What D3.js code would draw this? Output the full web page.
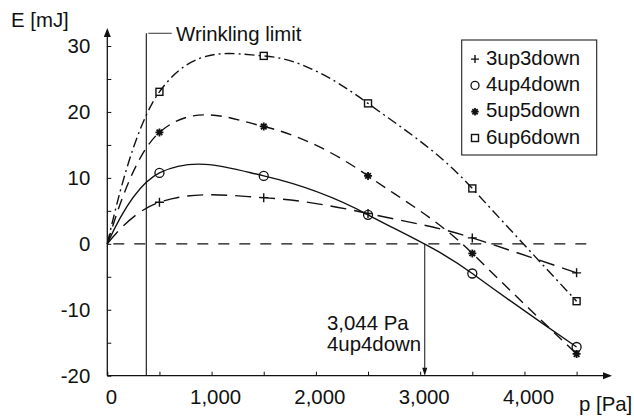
<!DOCTYPE html>
<html>
<head>
<meta charset="utf-8">
<script src="https://cdn.jsdelivr.net/npm/d3@7"></script>
<style>
  html, body { margin: 0; padding: 0; background: #fff; }
  svg { display: block; }
  text { font-family: "Liberation Sans", Arial, Helvetica, sans-serif; fill: #111; }
</style>
</head>
<body>
<svg id="chart" width="634" height="417"></svg>
<script>
// ---------- data ----------
const pressures = [0, 500, 1500, 2500, 3500, 4500];          // p [Pa]
const seriesNames = ["3up3down", "4up4down", "5up5down", "6up6down"];
const e3up3down = [0, 6.3, 7.0, 4.6, 0.9, -4.4];             // E [mJ]
const e4up4down = [0, 10.75, 10.3, 4.4, -4.5, -15.65];
const e5up5down = [0, 16.9, 17.8, 10.3, -1.45, -16.7];
const e6up6down = [0, 23.05, 28.5, 21.3, 8.4, -8.7];
const xTicks = [0, 500, 1000, 1500, 2000, 2500, 3000, 3500, 4000, 4500];
const yTicks = [-20, -15, -10, -5, 0, 5, 10, 15, 20, 25, 30];
const wrinklingLimit = 374;      // Pa
const crossing = 3044;           // Pa, 4up4down zero crossing
const crossingLabel = ["3,044 Pa", "4up4down"];

// ---------- setup ----------
const svg = d3.select("#chart");
const FONT = 20.4;
const INK = "#111";

const x = d3.scaleLinear().domain([0, 4500]).range([107.3, 576.6]);
const y = d3.scaleLinear().domain([-20, 30]).range([375.7, 46]);

const series = [
  { name: seriesNames[0], values: e3up3down, dash: "16,8",       marker: "plus" },
  { name: seriesNames[1], values: e4up4down, dash: null,         marker: "circle" },
  { name: seriesNames[2], values: e5up5down, dash: "11,7",       marker: "star" },
  { name: seriesNames[3], values: e6up6down, dash: "10,4,2,4",   marker: "square" }
];

// smooth spline through points (Hermite in x, finite-difference tangents)
function curveSmoothX(context) {
  let pts = [];
  const S = 1.15;
  return {
    areaStart() {}, areaEnd() {},
    lineStart() { pts = []; },
    point(px, py) { pts.push([+px, +py]); },
    lineEnd() {
      const n = pts.length;
      if (!n) return;
      context.moveTo(pts[0][0], pts[0][1]);
      if (n < 3) { for (let i = 1; i < n; i++) context.lineTo(pts[i][0], pts[i][1]); return; }
      const m = new Array(n);
      for (let i = 1; i < n - 1; i++)
        m[i] = S * (pts[i + 1][1] - pts[i - 1][1]) / (pts[i + 1][0] - pts[i - 1][0]);
      const s0 = (pts[1][1] - pts[0][1]) / (pts[1][0] - pts[0][0]);
      const sn = (pts[n - 1][1] - pts[n - 2][1]) / (pts[n - 1][0] - pts[n - 2][0]);
      m[0] = 2 * s0 - m[1];
      m[n - 1] = 2 * sn - m[n - 2];
      for (let i = 0; i < n - 1; i++) {
        const [x0, y0] = pts[i], [x1, y1] = pts[i + 1];
        const h = (x1 - x0) / 3;
        context.bezierCurveTo(x0 + h, y0 + m[i] * h, x1 - h, y1 - m[i + 1] * h, x1, y1);
      }
    }
  };
}

// ---------- axes ----------
const yAxis = d3.axisLeft(y).tickValues(yTicks).tickSize(-4).tickPadding(17)
  .tickFormat(d => d % 10 === 0 ? d : "");
const gy = svg.append("g").attr("transform", `translate(${x(0)},0)`).call(yAxis);
gy.select(".domain").remove();
gy.selectAll("line").attr("stroke", INK).attr("stroke-width", 1);
gy.selectAll("text").attr("font-size", FONT).attr("font-family", null).attr("fill", INK);

const xAxis = d3.axisBottom(x).tickValues(xTicks).tickSize(-4).tickPadding(14)
  .tickFormat(d => d % 1000 === 0 ? d3.format(",")(d) : "");
const gx = svg.append("g").attr("transform", `translate(0,${y(-20)})`).call(xAxis);
gx.select(".domain").remove();
gx.selectAll("line").attr("stroke", INK).attr("stroke-width", 1);
gx.selectAll("text").attr("font-size", FONT).attr("font-family", null).attr("fill", INK).attr("dx", 3.5);

// axis lines with arrows
const yTop = 28, xRight = 612;
svg.append("line").attr("x1", x(0)).attr("x2", x(0)).attr("y1", y(-20)).attr("y2", yTop + 6)
  .attr("stroke", INK).attr("stroke-width", 1.3);
svg.append("path").attr("d", `M${x(0)},${yTop} L${x(0) - 3.5},${yTop + 9} L${x(0) + 3.5},${yTop + 9} Z`).attr("fill", INK);
svg.append("line").attr("x1", x(0)).attr("x2", xRight - 6).attr("y1", y(-20)).attr("y2", y(-20))
  .attr("stroke", INK).attr("stroke-width", 1.3);
svg.append("path").attr("d", `M${xRight},${y(-20)} L${xRight - 9},${y(-20) - 3.5} L${xRight - 9},${y(-20) + 3.5} Z`).attr("fill", INK);

svg.append("text").attr("x", 11).attr("y", 27).attr("font-size", FONT).text("E [mJ]");
svg.append("text").attr("x", 579).attr("y", 411).attr("font-size", FONT).text("p [Pa]");

// zero dashed line
svg.append("line").attr("x1", x(0) + 6).attr("x2", x(4600)).attr("y1", y(0)).attr("y2", y(0))
  .attr("stroke", INK).attr("stroke-width", 1.2).attr("stroke-dasharray", "11,10");

// wrinkling limit
const wx = x(wrinklingLimit), wTop = 33.3;
svg.append("line").attr("x1", wx).attr("x2", wx).attr("y1", wTop).attr("y2", y(-20))
  .attr("stroke", INK).attr("stroke-width", 1.1);
svg.append("line").attr("x1", wx + 2).attr("x2", 171.7).attr("y1", wTop).attr("y2", wTop)
  .attr("stroke", "#444").attr("stroke-width", 1.1);
svg.append("text").attr("x", 176).attr("y", 40.7).attr("font-size", FONT).text("Wrinkling limit");

// crossing annotation
const cx = x(crossing);
svg.append("line").attr("x1", cx).attr("x2", cx).attr("y1", y(0)).attr("y2", y(-20) - 5)
  .attr("stroke", INK).attr("stroke-width", 1);
svg.append("path").attr("d", `M${cx},${y(-20)} L${cx - 2.5},${y(-20) - 8} L${cx + 2.5},${y(-20) - 8} Z`).attr("fill", INK);
svg.append("text").attr("x", 327).attr("y", 330).attr("font-size", FONT).text(crossingLabel[0]);
svg.append("text").attr("x", 327).attr("y", 351).attr("font-size", FONT).text(crossingLabel[1]);

// ---------- curves ----------
const line = d3.line().x(d => x(d[0])).y(d => y(d[1])).curve(curveSmoothX);
series.forEach(s => {
  const pts = pressures.map((p, i) => [p, s.values[i]]);
  svg.append("path").attr("d", line(pts)).attr("fill", "none").attr("stroke", INK)
    .attr("stroke-width", 1.4).attr("stroke-dasharray", s.dash);
});

// ---------- markers ----------
function drawMarker(g, type, cxp, cyp, sz) {
  const h = sz / 2;
  if (type === "plus") {
    g.append("path").attr("d", `M${cxp - h},${cyp}H${cxp + h}M${cxp},${cyp - h}V${cyp + h}`)
      .attr("stroke", INK).attr("stroke-width", 1.4).attr("fill", "none");
  } else if (type === "circle") {
    g.append("circle").attr("cx", cxp).attr("cy", cyp).attr("r", h)
      .attr("stroke", INK).attr("stroke-width", 1.3).attr("fill", "none");
  } else if (type === "square") {
    g.append("rect").attr("x", cxp - h).attr("y", cyp - h).attr("width", sz).attr("height", sz)
      .attr("stroke", INK).attr("stroke-width", 1.4).attr("fill", "none");
  } else if (type === "star") {
    let d = "";
    for (let k = 0; k < 4; k++) {
      const a = k * Math.PI / 4;
      d += `M${cxp - h * Math.cos(a)},${cyp - h * Math.sin(a)}L${cxp + h * Math.cos(a)},${cyp + h * Math.sin(a)}`;
    }
    g.append("path").attr("d", d).attr("stroke", INK).attr("stroke-width", 1.8).attr("fill", "none");
  }
}
const markerSize = { plus: 9, circle: 9, star: 8, square: 7 };
const gm = svg.append("g");
series.forEach(s => {
  pressures.forEach((p, i) => {
    if (p === 0) return;
    drawMarker(gm, s.marker, x(p), y(s.values[i]), markerSize[s.marker]);
  });
});

// ---------- legend ----------
const lg = svg.append("g");
lg.append("rect").attr("x", 461.7).attr("y", 40).attr("width", 135).attr("height", 115)
  .attr("fill", "#fff").attr("stroke", "#222").attr("stroke-width", 1.1);
const legendSize = { plus: 8, circle: 8, star: 7.5, square: 7 };
series.forEach((s, i) => {
  const by = 64.6 + i * 26.3;
  drawMarker(lg, s.marker, 475, by - 5.5, legendSize[s.marker]);
  lg.append("text").attr("x", 486).attr("y", by).attr("font-size", FONT).text(s.name);
});
</script>
</body>
</html>
